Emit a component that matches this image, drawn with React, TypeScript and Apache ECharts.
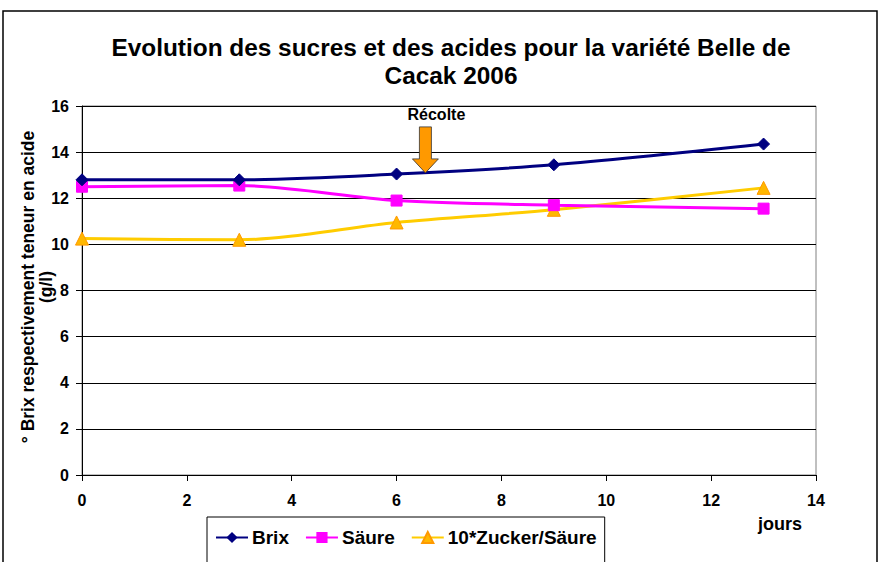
import React, { useEffect, useRef } from "react";
import * as echarts from "echarts";

const days = [0, 3, 6, 9, 13];
const brix = [12.8, 12.8, 13.05, 13.45, 14.35];
const saeure = [12.5, 12.55, 11.9, 11.7, 11.55];
const ratio = [10.25, 10.2, 10.95, 11.5, 12.45];
const seriesNames = ["Brix", "Säure", "10*Zucker/Säure"];
const harvest = { day: 6.55, value: 13.1, label: "Récolte" };
const yTitle = "° Brix respectivement teneur en acide\n(g/l)";
const xTitle = "jours";

const FONT = "Arial, 'Liberation Sans', sans-serif";

export default function App() {
  const ref = useRef<HTMLDivElement>(null);
  useEffect(() => {
    const chart = echarts.init(ref.current!, null, { renderer: "svg" });
    const pair = (ys: number[]) => days.map((d, i) => [d, ys[i]]);
    chart.setOption({
      animation: false,
      backgroundColor: "#fff",
      textStyle: { fontFamily: FONT },
      title: {
        text: "Evolution des sucres et des acides pour la variété Belle de\nCacak 2006",
        left: 446,
        textAlign: "center",
        top: 28,
        textStyle: { fontSize: 24.4, fontWeight: "bold", color: "#000", lineHeight: 28, fontFamily: FONT },
      },
      grid: {
        left: 82,
        right: 66,
        top: 106,
        bottom: 87,
        show: true,
        borderColor: "#808080",
        borderWidth: 1,
        containLabel: false,
        outerBoundsMode: "none",
      },
      legend: {
        left: 207,
        top: 517,
        data: seriesNames,
        itemWidth: 32,
        itemHeight: 14,
        itemGap: 16,
        padding: [11, 8, 20, 8],
        borderColor: "#000",
        borderWidth: 1,
        backgroundColor: "#fff",
        textStyle: { fontSize: 19, fontWeight: "bold", color: "#000", fontFamily: FONT, padding: [0, 0, 0, -1] },
      },
      xAxis: {
        type: "value",
        min: 0,
        max: 14,
        interval: 2,
        axisLine: { lineStyle: { color: "#000", width: 1 } },
        axisTick: { show: true, length: 6, lineStyle: { color: "#000" } },
        axisLabel: { fontSize: 16, fontWeight: "bold", color: "#000", margin: 17, fontFamily: FONT },
        splitLine: { show: false },
      },
      yAxis: {
        type: "value",
        min: 0,
        max: 16,
        interval: 2,
        axisLine: { show: true, lineStyle: { color: "#000", width: 1 } },
        axisTick: { show: true, length: 6, lineStyle: { color: "#000" } },
        axisLabel: { fontSize: 16, fontWeight: "bold", color: "#000", margin: 13, fontFamily: FONT },
        splitLine: { show: true, lineStyle: { color: "#000", width: 1 } },
      },
      series: [
        {
          name: seriesNames[0],
          type: "line",
          smooth: 0.3,
          data: pair(brix),
          symbol: "diamond",
          symbolSize: 12,
          lineStyle: { color: "#000080", width: 3 },
          itemStyle: { color: "#000080", borderColor: "#000080" },
          z: 4,
        },
        {
          name: seriesNames[1],
          type: "line",
          smooth: 0.3,
          data: pair(saeure),
          symbol: "rect",
          symbolSize: 11,
          lineStyle: { color: "#FF00FF", width: 3 },
          itemStyle: { color: "#FF00FF", borderColor: "#FF00FF" },
          z: 3,
        },
        {
          name: seriesNames[2],
          type: "line",
          smooth: 0.3,
          data: pair(ratio),
          symbol: "triangle",
          symbolSize: 13,
          lineStyle: { color: "#FFCC00", width: 3 },
          itemStyle: { color: "#FFB800", borderColor: "#FF9900", borderWidth: 1 },
          z: 2,
        },
      ],
    });
    const [tx, ty] = chart.convertToPixel({ gridIndex: 0 }, [harvest.day, harvest.value]) as number[];
    const headH = 14;
    const headW = 13;
    const shaftW = 6;
    const shaftTop = ty - 46;
    chart.setOption({
      graphic: [
        {
          type: "rect",
          shape: { x: 3, y: 11, width: 874, height: 560 },
          style: { fill: "none", stroke: "#000", lineWidth: 1.5 },
          silent: true,
          z: 0,
        },
        {
          type: "polygon",
          shape: {
            points: [
              [tx - shaftW, shaftTop],
              [tx + shaftW, shaftTop],
              [tx + shaftW, ty - headH],
              [tx + headW, ty - headH],
              [tx, ty],
              [tx - headW, ty - headH],
              [tx - shaftW, ty - headH],
            ],
          },
          style: { fill: "#FF9900", stroke: "#333", lineWidth: 0.8 },
          z: 10,
        },
        {
          type: "text",
          x: tx + 11,
          y: shaftTop - 12,
          style: {
            text: harvest.label,
            font: `bold 16px ${FONT}`,
            fill: "#000",
            align: "center",
            verticalAlign: "middle",
          },
          z: 10,
        },
        {
          type: "text",
          x: 37,
          y: 287,
          rotation: Math.PI / 2,
          style: {
            text: yTitle,
            font: `bold 17.5px ${FONT}`,
            lineHeight: 18,
            fill: "#000",
            align: "center",
            verticalAlign: "middle",
          },
          z: 10,
        },
        {
          type: "text",
          x: 780,
          y: 524,
          style: {
            text: xTitle,
            font: `bold 18px ${FONT}`,
            fill: "#000",
            align: "center",
            verticalAlign: "middle",
          },
          z: 10,
        },
      ],
    });
    return () => chart.dispose();
  }, []);
  return (
    <div
      ref={ref}
      style={{ position: "fixed", left: 0, top: 0, width: 882, height: 562 }}
    />
  );
}
